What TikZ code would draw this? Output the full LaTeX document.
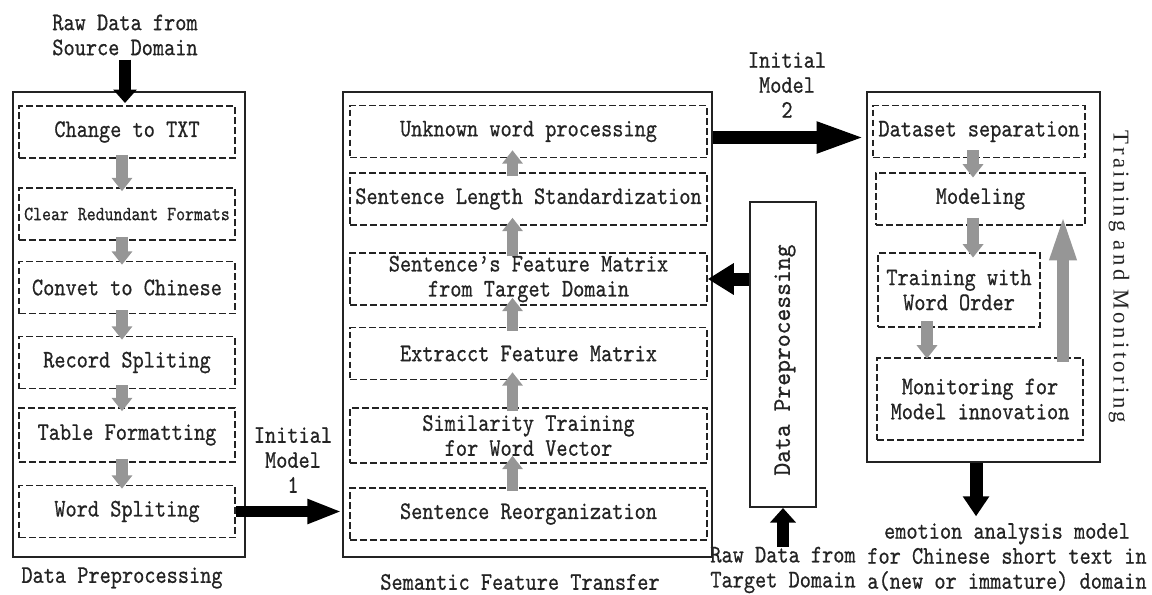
\documentclass[tikz,border=0pt]{standalone}
\usepackage{fontspec}
\setmainfont[Extension=.otf, FakeStretch=0.84, FakeBold=0.6]{lmmono10-regular}
\newfontfamily\widemono[Extension=.otf, FakeStretch=0.966, FakeBold=0.6]{lmmono10-regular}
\newfontfamily\spacedserif[LetterSpace=15]{Liberation Serif}
\usetikzlibrary{arrows.meta}
\definecolor{arrgray}{RGB}{150,150,150}
\definecolor{ink}{RGB}{35,35,35}
\tikzset{
  txt/.style={font=\fontsize{19}{18.75}\selectfont, text=ink, align=center, inner sep=0pt},
  outer/.style={draw=ink, line width=1.5pt, inner sep=0pt},
  dbox/.style={txt, draw=ink, line width=1.2pt, dash pattern=on 5pt off 2.5pt, minimum height=39pt},
  garrow/.style={draw=arrgray, line width=8.5pt, -{Triangle[width=15pt,length=10pt]}, shorten <=-3pt, shorten >=-3pt},
  barrow/.style={draw=black, line width=8.5pt, -{Triangle[width=17pt,length=10pt]}},
}
\begin{document}
\begin{tikzpicture}[x=0.75pt,y=-0.75pt]
  \useasboundingbox (0,0) rectangle (1152,594);

  % data preprocessing (left column)
  \node[outer, minimum width=174pt, minimum height=348.75pt] (dp) at (129,324.5) {};
  \node[dbox, minimum width=162pt] (ctxt) at (127,132) {Change to TXT};
  \node[dbox, minimum width=162pt, font=\fontsize{15.2}{15}\selectfont] (crf) at (127,214) {Clear Redundant Formats};
  \node[dbox, minimum width=162pt] (cch) at (127,287.5) {Convet to Chinese};
  \node[dbox, minimum width=162pt] (rsp) at (127,362.5) {Record Spliting};
  \node[dbox, minimum width=162pt, minimum height=40.5pt] (tfm) at (127,435) {Table Formatting};
  \node[dbox, minimum width=162pt] (wsp) at (127,511.5) {Word Spliting};
  \node[txt] (rawsrc) at (125,35) {Raw Data from\\Source Domain};
  \node[txt] (dplab) at (122,578) {Data Preprocessing};
  \foreach \a/\b in {ctxt/crf,crf/cch,cch/rsp,rsp/tfm,tfm/wsp}
    \draw[garrow] ([xshift=-3.75pt]\a.south) -- ([xshift=-3.75pt]\b.north);

  % semantic feature transfer (middle column)
  \node[outer, minimum width=276.75pt, minimum height=348.75pt] (sft) at (527.5,324.5) {};
  \node[dbox, minimum width=267.75pt] (unk) at (528.5,131.5) {Unknown word processing};
  \node[dbox, minimum width=267.75pt] (sls) at (528.5,199) {Sentence Length Standardization};
  \node[dbox, minimum width=267.75pt] (sfm) at (528.5,279) {Sentence's Feature Matrix\\from Target Domain};
  \node[dbox, minimum width=267.75pt] (efm) at (528.5,353.5) {Extracct Feature Matrix};
  \node[dbox, minimum width=267.75pt, minimum height=41.25pt] (stw) at (528.5,435.5) {Similarity Training\\for Word Vector};
  \node[dbox, minimum width=267.75pt] (sro) at (528.5,514) {Sentence Reorganization};
  \node[txt] (sftlab) at (520,582) {Semantic Feature Transfer};
  \foreach \a/\b in {sro/stw,stw/efm,efm/sfm,sfm/sls,sls/unk}
    \draw[garrow, shorten >=-6pt] ([xshift=-12pt]\a.north) -- ([xshift=-12pt]\b.south);

  % target domain preprocessing
  \node[outer, minimum width=49.5pt, minimum height=228.75pt] (dpre) at (783,354.5) {};
  \node[txt, rotate=90, font={\widemono\fontsize{19}{18.75}\selectfont}] (dprelab) at (785,360) {Data Preprocessing};
  \node[txt] (rawtgt) at (783,570) {Raw Data from\\Target Domain};

  % training and monitoring (right column)
  \node[outer, minimum width=174.75pt, minimum height=277.5pt] (tm) at (983.5,277) {};
  \node[dbox, minimum width=159pt] (dss) at (979,131.5) {Dataset separation};
  \node[dbox, minimum width=156.75pt] (mdl) at (980.5,199) {Modeling};
  \node[dbox, minimum width=121.5pt, minimum height=55.5pt] (two) at (959,290) {Training with\\Word Order};
  \node[dbox, minimum width=154.5pt, minimum height=61.5pt] (mon) at (980,399) {Monitoring for\\Model innovation};
  \node[txt, rotate=-90, font={\spacedserif\fontsize{17}{18.75}\selectfont}] (tmlab) at (1119,277) {Training and Monitoring};
  \node[txt] (emo) at (1007,557) {emotion analysis model\\for Chinese short text in\\a(new or immature) domain};
  \coordinate (t1) at ([xshift=-4.5pt]dss.south);
  \coordinate (t2) at ([xshift=-5.6pt]mdl.south);
  \coordinate (t3) at ([xshift=-24pt]two.south);
  \coordinate (fb) at ([xshift=62.25pt]mon.north);
  \draw[garrow, shorten <=-6pt, shorten >=-4pt] (t1) -- (t1 |- mdl.north);
  \draw[garrow, shorten <=-6pt, shorten >=-4pt] (t2) -- (t2 |- two.north);
  \draw[garrow, shorten <=-5pt, shorten >=-1pt] (t3) -- (t3 |- mon.north);
  \draw[garrow, -{Triangle[width=18pt,length=35pt]}, shorten <=-3.75pt, shorten >=-9pt] (fb) -- (fb |- mdl.south);

  % initial models and data flow
  \node[txt] (im1) at (293,460) {Initial\\Model\\1};
  \node[txt] (im2) at (787,85) {Initial\\Model\\2};
  \coordinate (m2) at ([yshift=-4.5pt]unk.east);
  \coordinate (o1) at ([xshift=-5.6pt]tm.south);
  \draw[barrow, shorten <=3pt, shorten >=-9pt] (rawsrc.south) -- (rawsrc.south |- dp.north);
  \draw[barrow, -{Triangle[width=17pt,length=26pt]}] (wsp.east) -- (wsp.east -| sft.west);
  \draw[barrow, line width=9.75pt, -{Triangle[width=21pt,length=37pt]}] (m2 -| sft.east) -- (m2 -| tm.west);
  \draw[barrow, line width=9.75pt, -{Triangle[width=22.5pt,length=19.5pt]}] (sfm.east -| dpre.west) -- (sfm.east);
  \draw[barrow, -{Triangle[width=19pt,length=11pt]}] (rawtgt.north) -- (rawtgt.north |- dpre.south);
  \draw[barrow, line width=9.75pt, -{Triangle[width=19pt,length=15pt]}, shorten >=5pt] (o1) -- (o1 |- emo.north);
\end{tikzpicture}
\end{document}
